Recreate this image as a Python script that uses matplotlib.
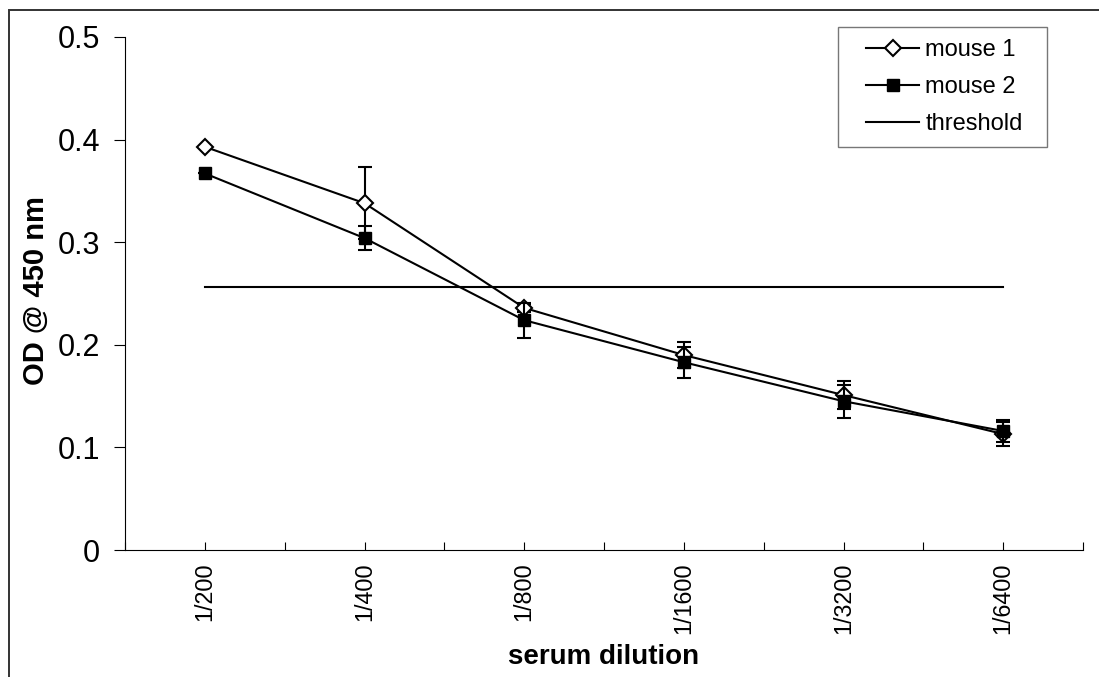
import matplotlib
matplotlib.use("Agg")
import matplotlib.pyplot as plt
from matplotlib.patches import Rectangle
from matplotlib.lines import Line2D
from matplotlib.legend_handler import HandlerLine2D
from matplotlib.path import Path
import numpy as np

plt.rcParams['font.family'] = ['Liberation Sans', 'DejaVu Sans']

categories = ["1/200", "1/400", "1/800", "1/1600", "1/3200", "1/6400"]
mouse1 = [0.393, 0.338, 0.236, 0.190, 0.151, 0.113]
mouse1_err = [0.0, 0.035, 0.004, 0.013, 0.014, 0.012]
mouse2 = [0.367, 0.304, 0.224, 0.183, 0.145, 0.116]
mouse2_err = [0.0, 0.012, 0.017, 0.015, 0.016, 0.011]
threshold = [0.256, 0.256, 0.256, 0.256, 0.256, 0.256]

W, H = 1099, 677
fig = plt.figure(figsize=(W / 100, H / 100), dpi=100)
ax = fig.add_axes([125 / W, 1 - 550 / H, (1083 - 125) / W, (550 - 37) / H])

x = np.arange(len(categories))

ax.errorbar(x, mouse1, yerr=mouse1_err, color='black', lw=1.5, marker='D',
            ms=8, mfc='white', mec='black', mew=1.5, capsize=5, capthick=1.5,
            elinewidth=1.5, zorder=3)
ax.errorbar(x, mouse2, yerr=mouse2_err, color='black', lw=1.5, marker='s',
            ms=9, mfc='black', mec='black', capsize=5, capthick=1.5,
            elinewidth=1.5, zorder=4)
ax.plot(x, threshold, color='black', lw=1.5, zorder=2)

ax.set_xlim(-0.5, len(categories) - 0.5)
ax.set_ylim(0, 0.5)
ax.set_yticks([0, 0.1, 0.2, 0.3, 0.4, 0.5])
ax.set_yticklabels(["0", "0.1", "0.2", "0.3", "0.4", "0.5"], fontsize=22)
ax.set_xticks(x)
ax.set_xticklabels(categories, rotation=90, fontsize=16.8)
ax.set_xticks(np.arange(-0.5, len(categories)), minor=True)

ax.tick_params(axis='y', direction='out', length=8, width=0.8, pad=10)
ax.tick_params(axis='x', which='both', direction='in', length=6, width=0.8, pad=9)

for s in ['top', 'right']:
    ax.spines[s].set_visible(False)
for s in ['left', 'bottom']:
    ax.spines[s].set_linewidth(0.8)

ax.set_ylabel("OD @ 450 nm", fontsize=21, fontweight='bold')
ax.yaxis.set_label_coords((36 - 125) / (1083 - 125), (550 - 291) / (550 - 37))
ax.yaxis.label.set_verticalalignment('center')
ax.set_xlabel("serum dilution", fontsize=20, fontweight='bold')
ax.xaxis.set_label_coords((604 - 125) / (1083 - 125), (550 - 664) / (550 - 37))
ax.xaxis.label.set_verticalalignment('baseline')


class ShiftedHandler(HandlerLine2D):
    shift = 11.5  # points of empty space before the handle

    def create_artists(self, legend, orig_handle, xdescent, ydescent,
                       width, height, fontsize, trans):
        return super().create_artists(legend, orig_handle,
                                      xdescent - self.shift, ydescent,
                                      width - self.shift, height, fontsize, trans)


def wide_box(x0, y0, width, height, mutation_size):
    extra = 12.0  # extra pixels of frame on the right side
    x1 = x0 + width + extra
    y1 = y0 + height
    return Path([(x0, y0), (x1, y0), (x1, y1), (x0, y1), (x0, y0)], closed=True)


h1 = Line2D([], [], color='black', lw=1.5, marker='D', ms=8, mfc='white',
            mec='black', mew=1.5)
h2 = Line2D([], [], color='black', lw=1.5, marker='s', ms=9, mfc='black',
            mec='black')
h3 = Line2D([], [], color='black', lw=1.5)
handler = ShiftedHandler()
leg = ax.legend([h1, h2, h3], ["mouse 1", "mouse 2", "threshold"],
                handler_map={h1: handler, h2: handler, h3: handler},
                loc='upper left', bbox_to_anchor=(838 / W, 1 - 27 / H),
                bbox_transform=fig.transFigure, borderaxespad=0, fontsize=17,
                frameon=True, fancybox=False, edgecolor='#555555',
                handlelength=2.95, handletextpad=0.25, labelspacing=0.65,
                borderpad=0.5)
leg.get_frame().set_linewidth(1.0)
leg.get_frame().set_boxstyle(wide_box)

fig.patches.append(Rectangle((9 / W, -0.05), 1.2, 1 - 10 / H + 0.05,
                             transform=fig.transFigure, fill=False,
                             edgecolor='#333333', lw=1.4))

fig.savefig("out.png", dpi=100)
